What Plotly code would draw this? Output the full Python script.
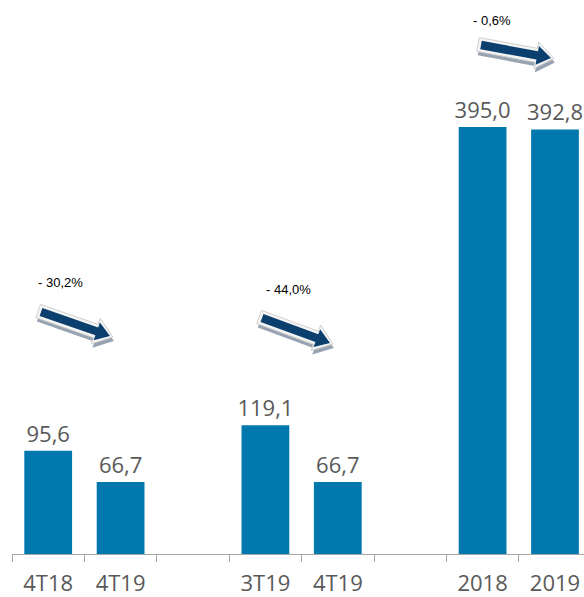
import plotly.graph_objects as go

# data
labels = ["4T18", "4T19", "", "3T19", "4T19", "", "2018", "2019"]
bar_pos = [0, 1, 3, 4, 6, 7]
values = [95.6, 66.7, 119.1, 66.7, 395.0, 392.8]
changes = ["- 30,2%", "- 44,0%", "- 0,6%"]

W, H = 584, 597
ML, MR, MT, MB = 12, 0, 0, 43
PW, PH = W - ML - MR, H - MT - MB

BAR = "#0078AE"
GREY = "#595959"


def px(x, y):
    # pixel -> paper coordinates
    return (x - ML) / PW, (H - MB - y) / PH


def arrow_path(s, e, hw, hh, hl, ext=0, dx=0, dy=0):
    sx, sy = s
    ex, ey = e
    L = ((ex - sx) ** 2 + (ey - sy) ** 2) ** 0.5
    ux, uy = (ex - sx) / L, (ey - sy) / L
    nx, ny = -uy, ux
    sx, sy = sx - ux * ext + dx, sy - uy * ext + dy
    ex, ey = ex + ux * ext + dx, ey + uy * ext + dy
    bx, by = ex - ux * hl, ey - uy * hl
    pts = [
        (sx + nx * hw, sy + ny * hw),
        (bx + nx * hw, by + ny * hw),
        (bx + nx * hh, by + ny * hh),
        (ex, ey),
        (bx - nx * hh, by - ny * hh),
        (bx - nx * hw, by - ny * hw),
        (sx - nx * hw, sy - ny * hw),
    ]
    pp = [px(x, y) for x, y in pts]
    return "M " + " L ".join(f"{a:.5f},{b:.5f}" for a, b in pp) + " Z"


fig = go.Figure(
    go.Bar(
        x=bar_pos,
        y=values,
        width=0.66,
        marker=dict(color=BAR, line=dict(width=0)),
        texttemplate="%{y:.1f}",
        textposition="outside",
        constraintext="none",
        textfont=dict(family="Open Sans", size=22, color=GREY),
        cliponaxis=False,
        hoverinfo="skip",
    )
)

# arrows (tail, tip) in pixels and label positions
arrows = [((41, 312), (110, 336)), ((262, 318), (330, 343)), ((481, 45), (551, 58))]
text_pos = [(60, 282), (288, 289), (492, 21)]

shapes = []
for s, e in arrows:
    shapes.append(dict(type="path", xref="paper", yref="paper",
                       path=arrow_path(s, e, 7, 13.5, 18, ext=3, dx=1, dy=4),
                       fillcolor="#98A3B2", line=dict(width=0), layer="above"))
    shapes.append(dict(type="path", xref="paper", yref="paper",
                       path=arrow_path(s, e, 7, 13.5, 18, ext=3),
                       fillcolor="#F5F5F5", line=dict(width=1, color="#D0D0D0"), layer="above"))
    shapes.append(dict(type="path", xref="paper", yref="paper",
                       path=arrow_path(s, e, 4.2, 9.5, 14),
                       fillcolor="#0B3F6E", line=dict(width=0), layer="above"))

annotations = []
for txt, (x, y) in zip(changes, text_pos):
    xp, yp = px(x, y)
    annotations.append(dict(x=xp, y=yp, xref="paper", yref="paper", text=txt,
                            showarrow=False, xanchor="center", yanchor="middle",
                            font=dict(family="Liberation Sans", size=13, color="#000000")))

fig.update_layout(
    width=W, height=H,
    margin=dict(l=ML, r=MR, t=MT, b=MB),
    paper_bgcolor="white", plot_bgcolor="white",
    separators=",.",
    showlegend=False,
    shapes=shapes,
    annotations=annotations,
    xaxis=dict(
        range=[-0.5, -0.5 + PW / 72.4],
        tickmode="array",
        tickvals=list(range(len(labels))),
        ticktext=labels,
        ticks="outside", ticklen=10, tickcolor="rgba(0,0,0,0)",
        tickfont=dict(family="Open Sans", size=22, color=GREY),
        showline=True, linecolor="#A6A6A6", linewidth=1,
        showgrid=False, zeroline=False,
        minor=dict(ticks="outside", tick0=-0.5, dtick=1, ticklen=7,
                   tickcolor="#A6A6A6", tickwidth=1, showgrid=False),
    ),
    yaxis=dict(range=[0, PH / 1.081], visible=False, fixedrange=True),
)

fig.write_html(
    "out.html",
    config={"displayModeBar": False},
    post_script="document.body.style.margin='0';document.body.style.overflow='hidden';",
)
